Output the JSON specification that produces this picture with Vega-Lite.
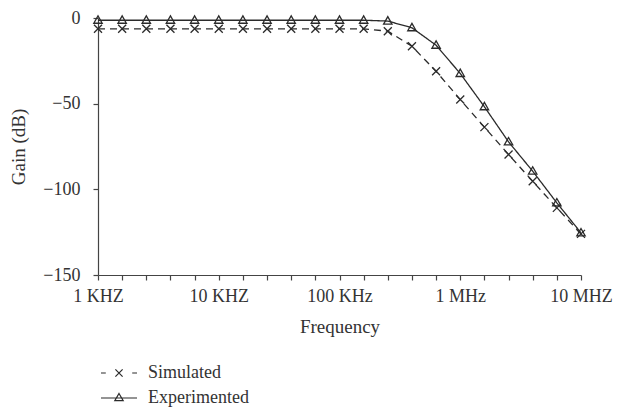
{
  "$schema": "https://vega.github.io/schema/vega-lite/v6.json",
  "width": 483,
  "height": 257,
  "autosize": "none",
  "padding": {"left": 98, "top": 18, "right": 38, "bottom": 133},
  "background": "white",
  "config": {
    "view": {"stroke": null},
    "font": "Liberation Serif",
    "axis": {
      "labelFont": "Liberation Serif",
      "titleFont": "Liberation Serif",
      "labelFontSize": 18,
      "titleFontSize": 19,
      "titleFontWeight": "normal",
      "labelColor": "#333",
      "titleColor": "#333",
      "domainColor": "#444",
      "tickColor": "#444",
      "domainWidth": 1.2,
      "tickWidth": 1.2,
      "tickSize": 5,
      "grid": false
    },
    "legend": {
      "labelFont": "Liberation Serif",
      "labelFontSize": 18,
      "labelColor": "#333"
    }
  },
  "data": {
    "values": [
      {"step": 0, "series": "Simulated", "gain": -6.3},
      {"step": 1, "series": "Simulated", "gain": -6.3},
      {"step": 2, "series": "Simulated", "gain": -6.3},
      {"step": 3, "series": "Simulated", "gain": -6.3},
      {"step": 4, "series": "Simulated", "gain": -6.3},
      {"step": 5, "series": "Simulated", "gain": -6.3},
      {"step": 6, "series": "Simulated", "gain": -6.3},
      {"step": 7, "series": "Simulated", "gain": -6.3},
      {"step": 8, "series": "Simulated", "gain": -6.3},
      {"step": 9, "series": "Simulated", "gain": -6.3},
      {"step": 10, "series": "Simulated", "gain": -6.3},
      {"step": 11, "series": "Simulated", "gain": -6.3},
      {"step": 12, "series": "Simulated", "gain": -7.7},
      {"step": 13, "series": "Simulated", "gain": -16.5},
      {"step": 14, "series": "Simulated", "gain": -31.1},
      {"step": 15, "series": "Simulated", "gain": -47.6},
      {"step": 16, "series": "Simulated", "gain": -63.7},
      {"step": 17, "series": "Simulated", "gain": -79.7},
      {"step": 18, "series": "Simulated", "gain": -95.3},
      {"step": 19, "series": "Simulated", "gain": -110.8},
      {"step": 20, "series": "Simulated", "gain": -126},
      {"step": 0, "series": "Experimented", "gain": -1.3},
      {"step": 1, "series": "Experimented", "gain": -1.3},
      {"step": 2, "series": "Experimented", "gain": -1.3},
      {"step": 3, "series": "Experimented", "gain": -1.3},
      {"step": 4, "series": "Experimented", "gain": -1.3},
      {"step": 5, "series": "Experimented", "gain": -1.3},
      {"step": 6, "series": "Experimented", "gain": -1.3},
      {"step": 7, "series": "Experimented", "gain": -1.3},
      {"step": 8, "series": "Experimented", "gain": -1.3},
      {"step": 9, "series": "Experimented", "gain": -1.3},
      {"step": 10, "series": "Experimented", "gain": -1.3},
      {"step": 11, "series": "Experimented", "gain": -1.3},
      {"step": 12, "series": "Experimented", "gain": -1.8},
      {"step": 13, "series": "Experimented", "gain": -5.7},
      {"step": 14, "series": "Experimented", "gain": -15.9},
      {"step": 15, "series": "Experimented", "gain": -32.4},
      {"step": 16, "series": "Experimented", "gain": -51.8},
      {"step": 17, "series": "Experimented", "gain": -72.3},
      {"step": 18, "series": "Experimented", "gain": -89.4},
      {"step": 19, "series": "Experimented", "gain": -107.9},
      {"step": 20, "series": "Experimented", "gain": -125.4}
    ]
  },
  "encoding": {
    "x": {
      "field": "step",
      "type": "quantitative",
      "scale": {"domain": [0, 20], "nice": false, "zero": false},
      "axis": {
        "title": "Frequency",
        "values": [0,1,2,3,4,5,6,7,8,9,10,11,12,13,14,15,16,17,18,19,20],
        "labelExpr": "datum.value == 0 ? '1 KHZ' : datum.value == 5 ? '10 KHZ' : datum.value == 10 ? '100 KHz' : datum.value == 15 ? '1 MHz' : datum.value == 20 ? '10 MHZ' : ''",
        "labelPadding": 7,
        "titlePadding": 12,
        "labelOverlap": false,
        "labelFlush": false
      }
    },
    "y": {
      "field": "gain",
      "type": "quantitative",
      "scale": {"domain": [-150, 0], "nice": false},
      "axis": {
        "title": "Gain (dB)",
        "values": [-150, -100, -50, 0],
        "labelPadding": 13,
        "titlePadding": 14
      }
    }
  },
  "layer": [
    {
      "mark": {"type": "line", "color": "#2b2b2b", "strokeWidth": 1.3},
      "encoding": {
        "strokeDash": {
          "field": "series",
          "type": "nominal",
          "scale": {"domain": ["Simulated", "Experimented"], "range": [[7, 5], [1, 0]]},
          "legend": null
        }
      }
    },
    {
      "mark": {"type": "point", "filled": false, "color": "#2b2b2b", "strokeWidth": 1.3, "size": 64, "opacity": 1},
      "encoding": {
        "shape": {
          "field": "series",
          "type": "nominal",
          "scale": {"domain": ["Simulated", "Experimented"], "range": ["M-1,-1L1,1M-1,1L1,-1", "M0,-1.1L1.05,0.75L-1.05,0.75Z"]},
          "legend": null
        }
      }
    },
    {
      "transform": [{"filter": "datum.step < 0"}],
      "mark": {"type": "point", "filled": false, "color": "#2b2b2b", "strokeWidth": 1.2, "size": 144, "opacity": 1},
      "encoding": {
        "shape": {
          "field": "series",
          "type": "nominal",
          "scale": {"domain": ["Simulated", "Experimented"], "range": ["M-3,0H-2.2M-0.6,-0.6L0.6,0.6M-0.6,0.6L0.6,-0.6M2.2,0H3", "M-3,0H3M0,-0.75L0.7,0.45L-0.7,0.45Z"]},
          "legend": {
            "title": null,
            "orient": "none",
            "legendX": 12,
            "legendY": 346,
            "padding": 0,
            "labelOffset": 20,
            "rowPadding": 7,
            "symbolSize": 144,
            "symbolStrokeWidth": 1.2,
            "symbolStrokeColor": "#2b2b2b",
            "symbolFillColor": "transparent"
          }
        }
      }
    }
  ],
  "resolve": {"scale": {"shape": "independent"}}
}
